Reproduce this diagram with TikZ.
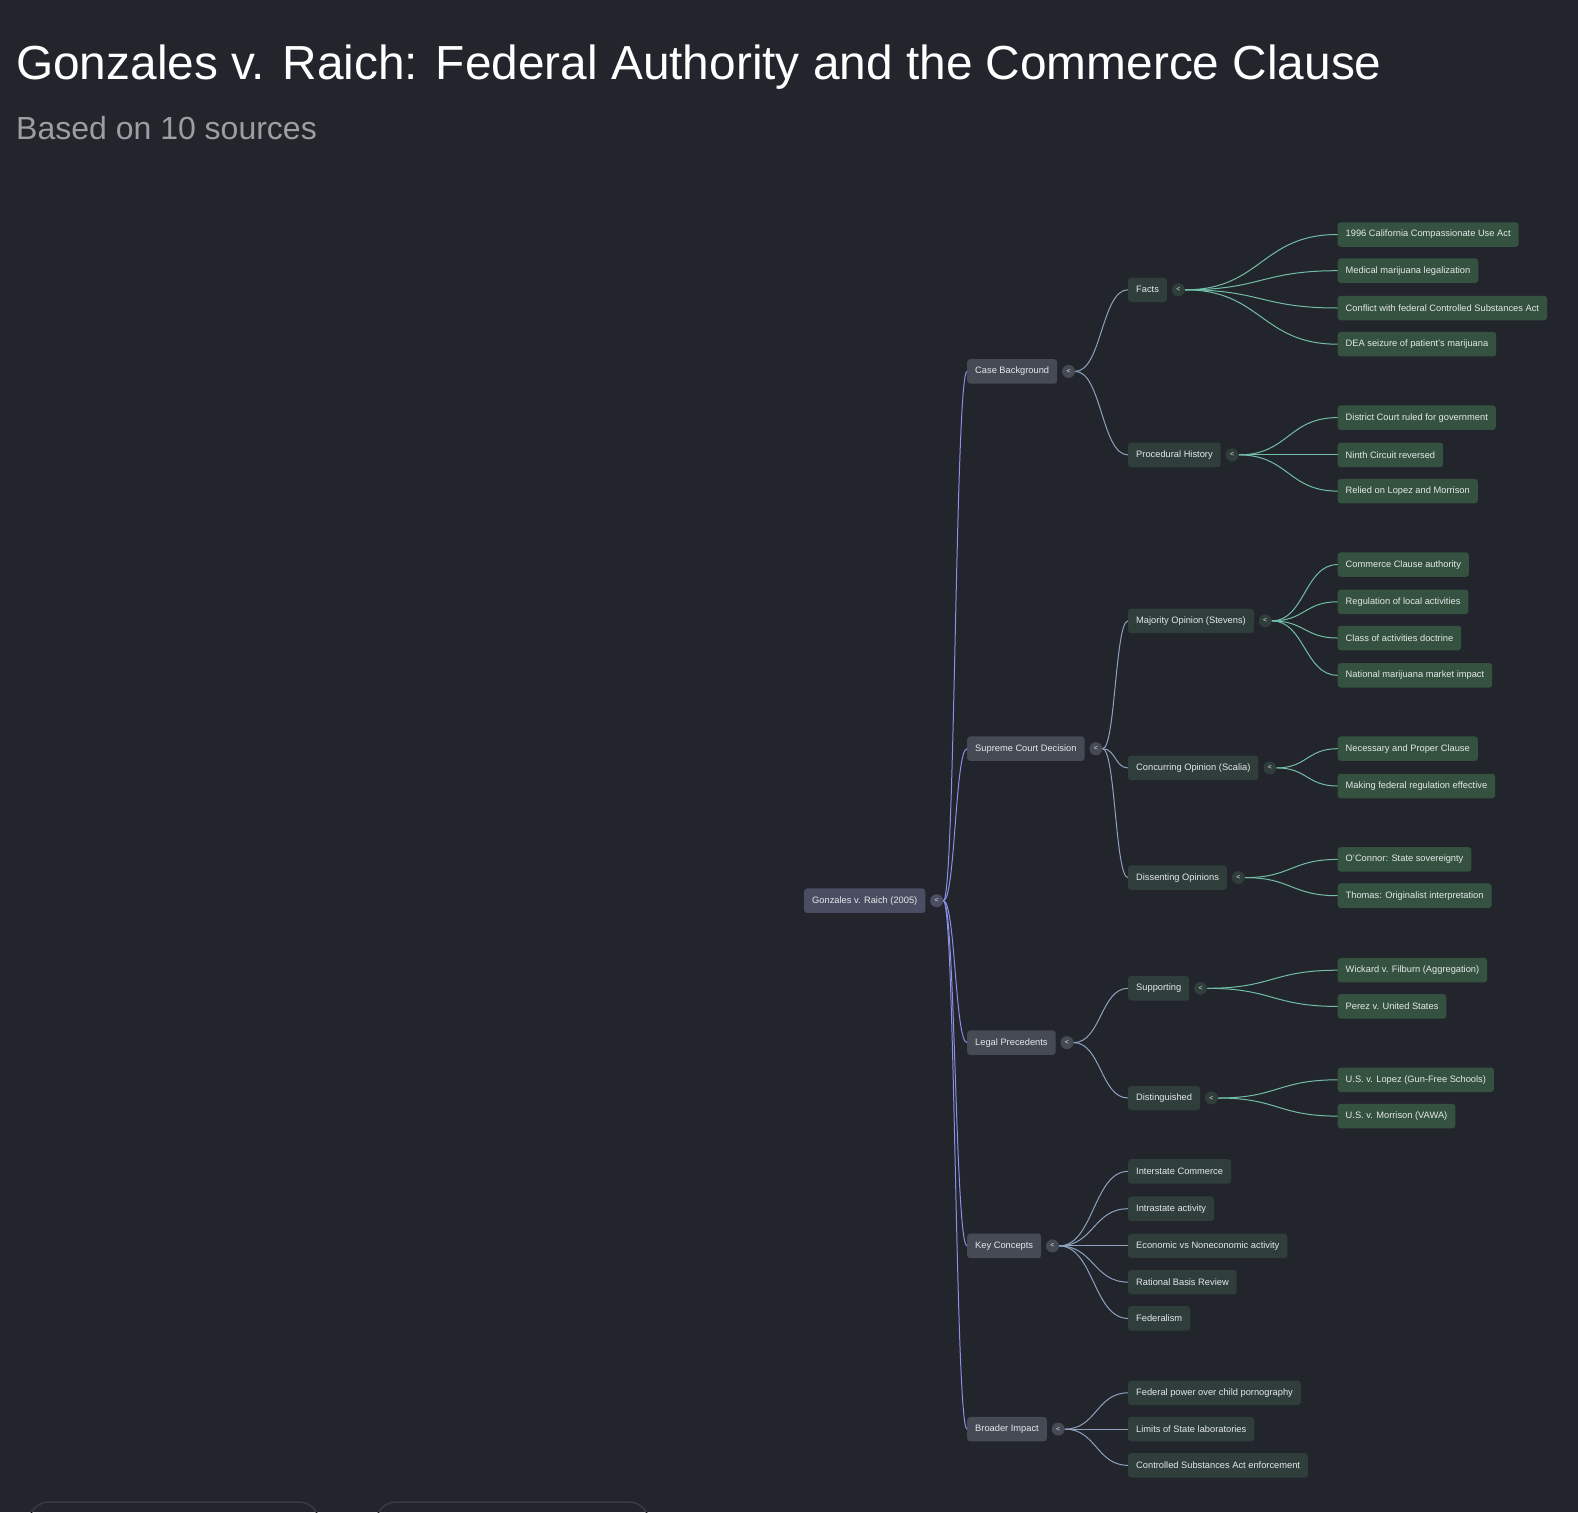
\documentclass[tikz,border=0pt]{standalone}
\usepackage{fontspec}
\setmainfont{Liberation Sans}
\usepackage{xcolor}
\usepackage{tikz}
\usetikzlibrary{positioning,calc}

\definecolor{bgcol}{HTML}{22252C}
\definecolor{rootfill}{HTML}{4B4E62}
\definecolor{topicfill}{HTML}{454A55}
\definecolor{subfill}{HTML}{2F3E3A}
\definecolor{leaffill}{HTML}{34523F}
\definecolor{rootline}{HTML}{8A90E6}
\definecolor{topicline}{HTML}{8CA2BE}
\definecolor{subline}{HTML}{72BDA8}
\definecolor{nodetext}{HTML}{E6E8EA}
\definecolor{subtext}{HTML}{9C9EA2}
\definecolor{cardline}{HTML}{3A3C41}

\tikzset{
    box/.style={rounded corners=3pt, minimum height=24.5pt, inner xsep=8pt, inner ysep=0pt,
        text=nodetext, font=\fontsize{9.3}{11}\selectfont, anchor=west},
    rootbox/.style={box, fill=rootfill},
    topicbox/.style={box, fill=topicfill},
    subbox/.style={box, fill=subfill},
    leafbox/.style={box, fill=leaffill},
    toggle/.style={circle, inner sep=0pt, minimum size=13pt, text=nodetext,
        font=\fontsize{7}{7}\selectfont, right=4.5pt of #1},
    rootlink/.style={rootline, line width=1pt},
    topiclink/.style={topicline, line width=1pt},
    sublink/.style={subline, line width=1pt}
}

% horizontal S-curve from a toggle to a child box
\newcommand\branch[3]{\draw[#1] let \p1=(#2.east), \p2=(#3.west) in
    (\p1) .. controls ({(\x1+\x2)/2},\y1) and ({(\x1+\x2)/2},\y2) .. (\p2);}

\begin{document}
\begin{tikzpicture}[x=1pt,y=-1pt]
    % Page
    \fill[bgcol] (0,0) rectangle (1578,1512);
    \useasboundingbox (0,0) rectangle (1578,1512);

    % Heading
    \node[anchor=base west, inner sep=0pt, text=white, font=\fontsize{47.8}{50}\selectfont] (title) at (16,79)
        {Gonzales v. Raich: Federal Authority and the Commerce Clause};
    \node[anchor=base west, inner sep=0pt, text=subtext, font=\fontsize{32}{34}\selectfont] (subtitle) at (16,139)
        {Based on 10 sources};

    % Root
    \node[rootbox] (root) at (804,900.7) {Gonzales v. Raich (2005)};
    \node[toggle=root, fill=rootfill] (rootT) {<};

    % Main topics
    \node[topicbox] (cb) at (967,371.4) {Case Background};
    \node[topicbox] (scd) at (967,748.7) {Supreme Court Decision};
    \node[topicbox] (lp) at (967,1042.6) {Legal Precedents};
    \node[topicbox] (kc) at (967,1245.9) {Key Concepts};
    \node[topicbox] (bi) at (967,1429.1) {Broader Impact};
    \node[toggle=cb, fill=topicfill] (cbT) {<};
    \node[toggle=scd, fill=topicfill] (scdT) {<};
    \node[toggle=lp, fill=topicfill] (lpT) {<};
    \node[toggle=kc, fill=topicfill] (kcT) {<};
    \node[toggle=bi, fill=topicfill] (biT) {<};

    % Subtopics
    \node[subbox] (facts) at (1128,289.8) {Facts};
    \node[subbox] (proc) at (1128,454.9) {Procedural History};
    \node[subbox] (maj) at (1128,620.9) {Majority Opinion (Stevens)};
    \node[subbox] (conc) at (1128,767.9) {Concurring Opinion (Scalia)};
    \node[subbox] (diss) at (1128,877.6) {Dissenting Opinions};
    \node[subbox] (sup) at (1128,988.3) {Supporting};
    \node[subbox] (dist) at (1128,1098) {Distinguished};
    \node[subbox] (k1) at (1128,1171.4) {Interstate Commerce};
    \node[subbox] (k2) at (1128,1208.7) {Intrastate activity};
    \node[subbox] (k3) at (1128,1245.9) {Economic vs Noneconomic activity};
    \node[subbox] (k4) at (1128,1282.1) {Rational Basis Review};
    \node[subbox] (k5) at (1128,1318.4) {Federalism};
    \node[subbox] (b1) at (1128,1392.8) {Federal power over child pornography};
    \node[subbox] (b2) at (1128,1429.1) {Limits of State laboratories};
    \node[subbox] (b3) at (1128,1465.3) {Controlled Substances Act enforcement};
    \node[toggle=facts, fill=subfill] (factsT) {<};
    \node[toggle=proc, fill=subfill] (procT) {<};
    \node[toggle=maj, fill=subfill] (majT) {<};
    \node[toggle=conc, fill=subfill] (concT) {<};
    \node[toggle=diss, fill=subfill] (dissT) {<};
    \node[toggle=sup, fill=subfill] (supT) {<};
    \node[toggle=dist, fill=subfill] (distT) {<};

    % Leaves
    \node[leafbox] (f1) at (1337.5,234.5) {1996 California Compassionate Use Act};
    \node[leafbox] (f2) at (1337.5,270.7) {Medical marijuana legalization};
    \node[leafbox] (f3) at (1337.5,308) {Conflict with federal Controlled Substances Act};
    \node[leafbox] (f4) at (1337.5,344.2) {DEA seizure of patient's marijuana};
    \node[leafbox] (p1) at (1337.5,417.6) {District Court ruled for government};
    \node[leafbox] (p2) at (1337.5,454.9) {Ninth Circuit reversed};
    \node[leafbox] (p3) at (1337.5,491.1) {Relied on Lopez and Morrison};
    \node[leafbox] (m1) at (1337.5,564.6) {Commerce Clause authority};
    \node[leafbox] (m2) at (1337.5,601.8) {Regulation of local activities};
    \node[leafbox] (m3) at (1337.5,638) {Class of activities doctrine};
    \node[leafbox] (m4) at (1337.5,675.3) {National marijuana market impact};
    \node[leafbox] (c1) at (1337.5,748.7) {Necessary and Proper Clause};
    \node[leafbox] (c2) at (1337.5,786) {Making federal regulation effective};
    \node[leafbox] (d1) at (1337.5,859.4) {O'Connor: State sovereignty};
    \node[leafbox] (d2) at (1337.5,895.7) {Thomas: Originalist interpretation};
    \node[leafbox] (s1) at (1337.5,970.2) {Wickard v. Filburn (Aggregation)};
    \node[leafbox] (s2) at (1337.5,1006.4) {Perez v. United States};
    \node[leafbox] (x1) at (1337.5,1079.8) {U.S. v. Lopez (Gun-Free Schools)};
    \node[leafbox] (x2) at (1337.5,1116.1) {U.S. v. Morrison (VAWA)};

    % Root links
    \branch{rootlink}{rootT}{cb}
    \branch{rootlink}{rootT}{scd}
    \branch{rootlink}{rootT}{lp}
    \branch{rootlink}{rootT}{kc}
    \branch{rootlink}{rootT}{bi}

    % Topic links
    \branch{topiclink}{cbT}{facts}
    \branch{topiclink}{cbT}{proc}
    \branch{topiclink}{scdT}{maj}
    \branch{topiclink}{scdT}{conc}
    \branch{topiclink}{scdT}{diss}
    \branch{topiclink}{lpT}{sup}
    \branch{topiclink}{lpT}{dist}
    \branch{topiclink}{kcT}{k1}
    \branch{topiclink}{kcT}{k2}
    \branch{topiclink}{kcT}{k3}
    \branch{topiclink}{kcT}{k4}
    \branch{topiclink}{kcT}{k5}
    \branch{topiclink}{biT}{b1}
    \branch{topiclink}{biT}{b2}
    \branch{topiclink}{biT}{b3}

    % Subtopic links
    \branch{sublink}{factsT}{f1}
    \branch{sublink}{factsT}{f2}
    \branch{sublink}{factsT}{f3}
    \branch{sublink}{factsT}{f4}
    \branch{sublink}{procT}{p1}
    \branch{sublink}{procT}{p2}
    \branch{sublink}{procT}{p3}
    \branch{sublink}{majT}{m1}
    \branch{sublink}{majT}{m2}
    \branch{sublink}{majT}{m3}
    \branch{sublink}{majT}{m4}
    \branch{sublink}{concT}{c1}
    \branch{sublink}{concT}{c2}
    \branch{sublink}{dissT}{d1}
    \branch{sublink}{dissT}{d2}
    \branch{sublink}{supT}{s1}
    \branch{sublink}{supT}{s2}
    \branch{sublink}{distT}{x1}
    \branch{sublink}{distT}{x2}

    % Cards cut off at the bottom edge
    \draw[cardline, line width=1.5pt, rounded corners=20pt] (29,1540) -- (29,1502) -- (319,1502) -- (319,1540);
    \draw[cardline, line width=1.5pt, rounded corners=20pt] (376,1540) -- (376,1502) -- (649,1502) -- (649,1540);
\end{tikzpicture}
\end{document}
